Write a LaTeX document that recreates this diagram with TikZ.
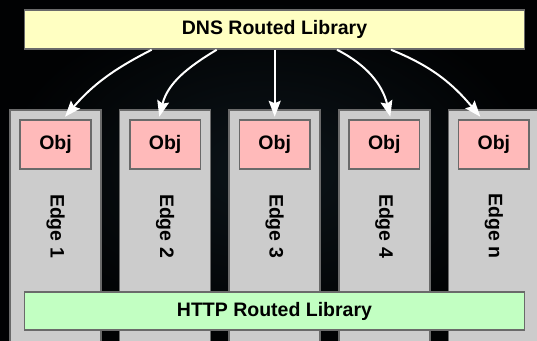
\documentclass[tikz,border=0pt]{standalone}
\usepackage{fontspec}
\setmainfont{Liberation Sans}
\usetikzlibrary{arrows.meta}
\definecolor{bgcenter}{HTML}{0C1419}
\definecolor{bgedge}{HTML}{010203}
\definecolor{libyellow}{HTML}{FFFFC2}
\definecolor{libgreen}{HTML}{C2FFC2}
\definecolor{objpink}{HTML}{FFBABA}
\definecolor{edgegray}{HTML}{CCCCCC}
\definecolor{rim}{HTML}{6A6A6A}

\begin{document}
\begin{tikzpicture}[x=1bp,y=1bp,
  lbl/.style={font=\fontsize{19.5bp}{23bp}\selectfont\bfseries},
  libbox/.style={draw=rim,line width=1.5bp,minimum width=499.5bp,inner sep=0pt,lbl},
  edgecol/.style={draw=rim,line width=1.5bp,fill=edgegray,minimum width=91bp,minimum height=250bp,inner sep=0pt},
  objbox/.style={draw=rim,line width=1.5bp,fill=objpink,minimum width=70.5bp,minimum height=49bp,inner sep=0pt,lbl},
  edgelbl/.style={lbl,rotate=-90,inner sep=0pt},
  route/.style={white,line width=2bp,-{Stealth[length=16bp,width=12bp,inset=2.5bp]}}
]
\useasboundingbox (0,0) rectangle (537,340);
% dark backdrop with a soft glow towards the middle
\shade[inner color=bgcenter,outer color=bgedge] (0,0) rectangle (537,340);

% edge servers, each holding an object store
\foreach \i/\lab in {1/1,2/2,3/3,4/4,5/n} {
  \pgfmathsetmacro\cx{55.5+109.6*(\i-1)}
  \node[edgecol] (col\i) at (\cx,105) {};
  \node[objbox] (obj\i) at (\cx,195.5) {Obj};
  \node[edgelbl] (edge\i) at (\cx,114) {Edge \lab};
}

% the two routing libraries
\node[libbox,fill=libyellow,minimum height=39bp] (dns) at (274.5,310.5) {DNS Routed Library};
\node[libbox,fill=libgreen,minimum height=38bp] (http) at (274.5,29) {HTTP Routed Library};

% DNS routing fans out to every edge
\draw[route] ([xshift=-122.8bp]dns.south) to[out=207,in=49] ([xshift=9.5bp,yshift=2.5bp]obj1.north);
\draw[route] ([xshift=-57.8bp]dns.south) to[out=211,in=76] ([xshift=-5.8bp,yshift=2.5bp]obj2.north);
\draw[route] (dns.south -| obj3.north) -- ([yshift=2.5bp]obj3.north);
\draw[route] ([xshift=62.5bp]dns.south) to[out=333,in=104] ([xshift=6bp,yshift=2.5bp]obj4.north);
\draw[route] ([xshift=116.5bp]dns.south) to[out=338,in=130] ([xshift=-13.6bp,yshift=2.5bp]obj5.north);
\end{tikzpicture}
\end{document}
